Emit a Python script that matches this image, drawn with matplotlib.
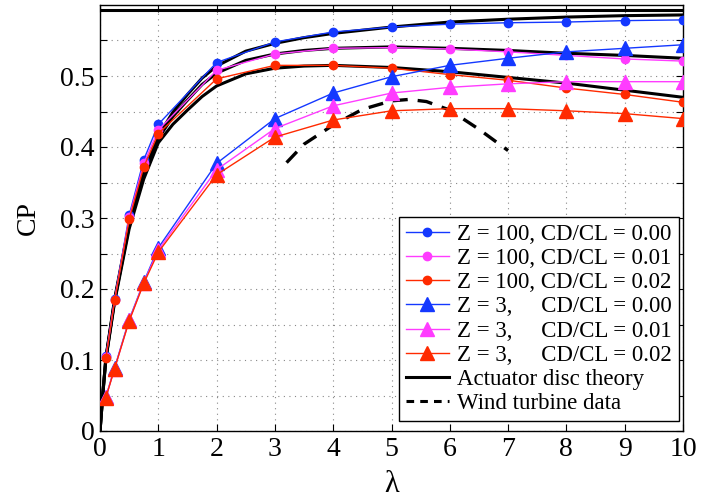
import numpy as np
import matplotlib
matplotlib.use("Agg")
import matplotlib.pyplot as plt
from matplotlib.ticker import FixedLocator, FuncFormatter

plt.rcParams['font.family'] = ['Liberation Serif', 'DejaVu Serif']
plt.rcParams['mathtext.fontset'] = 'stix'

# ---- data ----
lam_z100 = [0.1, 0.25, 0.5, 0.75, 1, 2, 3, 4, 5, 6, 7, 8, 9, 10]
cp_z100_000 = [0.105, 0.186, 0.304, 0.382, 0.432, 0.519, 0.548, 0.562, 0.569, 0.573, 0.575, 0.576, 0.578, 0.579]
cp_z100_001 = [0.104, 0.185, 0.301, 0.377, 0.424, 0.508, 0.531, 0.539, 0.540, 0.538, 0.534, 0.529, 0.524, 0.521]
cp_z100_002 = [0.103, 0.184, 0.298, 0.372, 0.419, 0.496, 0.515, 0.515, 0.511, 0.502, 0.494, 0.483, 0.474, 0.463]

lam_z3 = [0.1, 0.25, 0.5, 0.75, 1, 2, 3, 4, 5, 6, 7, 8, 9, 10]
cp_z3_000 = [0.048, 0.089, 0.157, 0.210, 0.258, 0.377, 0.440, 0.476, 0.499, 0.515, 0.525, 0.534, 0.539, 0.544]
cp_z3_001 = [0.048, 0.088, 0.156, 0.209, 0.255, 0.368, 0.426, 0.458, 0.476, 0.484, 0.489, 0.492, 0.492, 0.492]
cp_z3_002 = [0.047, 0.088, 0.155, 0.208, 0.252, 0.361, 0.414, 0.438, 0.451, 0.454, 0.454, 0.451, 0.447, 0.440]

lam_theory = [0, 0.05, 0.1, 0.25, 0.5, 0.75, 1, 1.25, 1.5, 1.75, 2, 2.5, 3, 3.5, 4, 5, 6, 7, 8, 9, 10]
cp_theory_000 = [0, 0.055, 0.103, 0.186, 0.292, 0.364, 0.416, 0.449, 0.474, 0.497, 0.514, 0.535, 0.546, 0.554, 0.560, 0.569, 0.576, 0.580, 0.583, 0.585, 0.586]
cp_theory_001 = [0, 0.055, 0.102, 0.184, 0.289, 0.360, 0.412, 0.443, 0.466, 0.488, 0.504, 0.522, 0.531, 0.536, 0.539, 0.541, 0.539, 0.536, 0.532, 0.529, 0.525]
cp_theory_002 = [0, 0.054, 0.101, 0.182, 0.285, 0.355, 0.406, 0.432, 0.452, 0.471, 0.486, 0.503, 0.511, 0.514, 0.515, 0.512, 0.506, 0.498, 0.490, 0.480, 0.470]
cp_betz = 16 / 27

lam_turbine = [3.2, 3.5, 4.0, 4.5, 5.0, 5.3, 5.6, 6.0, 6.5, 7.0]
cp_turbine = [0.378, 0.404, 0.431, 0.453, 0.465, 0.467, 0.464, 0.452, 0.425, 0.395]

labels = ["Z = 100, CD/CL = 0.00", "Z = 100, CD/CL = 0.01", "Z = 100, CD/CL = 0.02",
          "Z = 3,     CD/CL = 0.00", "Z = 3,     CD/CL = 0.01", "Z = 3,     CD/CL = 0.02",
          "Actuator disc theory", "Wind turbine data"]

blue = '#1438ff'
mag = '#ff3cff'
red = '#ff2a00'

fig = plt.figure(figsize=(7.25, 5.0), dpi=100)
ax = fig.add_axes([0.138, 0.138, 0.804, 0.852])

# theory (black) lines
th_kw = dict(color='black', lw=2.2, zorder=2)
ax.plot(lam_theory, cp_theory_000, **th_kw)
ax.plot(lam_theory, cp_theory_001, **th_kw)
ax.plot(lam_theory, cp_theory_002, **th_kw)
ax.axhline(cp_betz, **th_kw)
ax.plot(lam_turbine, cp_turbine, color='black', lw=2.4, ls=(0, (4.5, 3)), zorder=2)

h = []
ckw = dict(lw=1.0, marker='o', markersize=6, zorder=3)
tkw = dict(lw=1.0, marker='^', markersize=10, zorder=3)
h += ax.plot(lam_z100, cp_z100_000, color=blue, **ckw)
h += ax.plot(lam_z100, cp_z100_001, color=mag, **ckw)
h += ax.plot(lam_z100, cp_z100_002, color=red, **ckw)
h += ax.plot(lam_z3, cp_z3_000, color=blue, **tkw)
h += ax.plot(lam_z3, cp_z3_001, color=mag, **tkw)
h += ax.plot(lam_z3, cp_z3_002, color=red, **tkw)
h += ax.plot([], [], color='black', lw=2.2)
h += ax.plot([], [], color='black', lw=2.2, ls=(0, (2.5, 2)))

ax.set_xlim(0, 10)
ax.set_ylim(0, 0.6)
ax.set_xticks(range(0, 11))
yt = [round(0.05 * i, 2) for i in range(12)]
ax.yaxis.set_major_locator(FixedLocator(yt))
ax.yaxis.set_major_formatter(FuncFormatter(
    lambda v, p: ('0' if abs(v) < 1e-9 else ('%.1f' % v)) if abs(round(v * 10) - v * 10) < 1e-6 else ''))
ax.tick_params(direction='in', top=True, right=True, labelsize=20, length=5, width=0.8, pad=4)
ax.grid(True, ls=(0, (1, 4)), color='#888888', lw=0.8)
for s in ax.spines.values():
    s.set_linewidth(1.0)

ax.set_xlabel('λ', fontsize=22, labelpad=6)
ax.set_ylabel('CP', fontsize=20, labelpad=14)

leg = ax.legend(h, labels, loc='lower right', bbox_to_anchor=(0.993, 0.023),
                fontsize=16.5, frameon=True, fancybox=False,
                edgecolor='black', framealpha=1, handlelength=1.9, handletextpad=0.35,
                labelspacing=0.14, borderpad=0.3, borderaxespad=0.0)
leg.get_frame().set_linewidth(1.0)

fig.savefig('out.png', dpi=100)
